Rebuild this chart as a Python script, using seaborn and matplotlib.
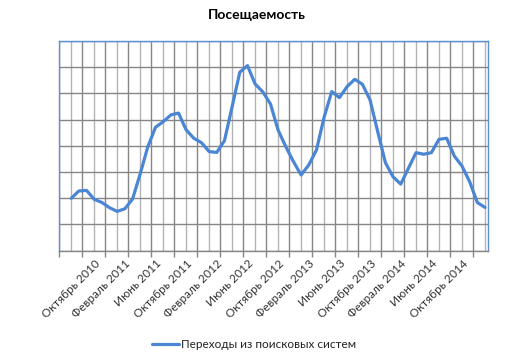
import numpy as np
import pandas as pd
import seaborn as sns
import matplotlib.pyplot as plt
from matplotlib.ticker import FixedLocator

# monthly data, July 2010 .. January 2015 (axis has no scale, values in grid units)
month_names = ['Январь', 'Февраль', 'Март', 'Апрель', 'Май', 'Июнь', 'Июль',
               'Август', 'Сентябрь', 'Октябрь', 'Ноябрь', 'Декабрь']
months = [f'{month_names[(6 + i) % 12]} {2010 + (6 + i) // 12}' for i in range(55)]
visits = [2.00, 2.28, 2.30, 1.96, 1.84, 1.64, 1.50, 1.60, 1.97, 2.93,
          3.97, 4.71, 4.92, 5.18, 5.25, 4.61, 4.29, 4.12, 3.78, 3.75,
          4.20, 5.50, 6.81, 7.06, 6.36, 6.06, 5.60, 4.60, 3.97, 3.40,
          2.89, 3.27, 3.84, 5.09, 6.07, 5.84, 6.26, 6.54, 6.35, 5.75,
          4.54, 3.36, 2.82, 2.54, 3.14, 3.74, 3.68, 3.74, 4.25, 4.29,
          3.61, 3.23, 2.63, 1.84, 1.65]
series_name = 'Переходы из поисковых систем'

df = pd.DataFrame({'idx': np.arange(len(visits)), 'month': months, 'visits': visits})

sns.set_style('white')
plt.rcParams['font.family'] = ['Lato', 'DejaVu Sans']

fig = plt.figure(figsize=(5.08, 3.6), dpi=100)
ax = fig.add_axes([0.1167, 0.3036, 0.8445, 0.5825])

blue = '#4a86d4'
sns.lineplot(data=df, x='idx', y='visits', ax=ax, color=blue, linewidth=2.3,
             label=series_name, legend=False)

x0, x1 = -1.56, 54.43
ax.set_xlim(x0, x1)
ax.set_ylim(0, 8)

# gridlines: dark every 3 months (with tick marks), light in between
major = np.arange(x0, x1, 3.0)
minor = np.arange(x0 + 1.5, x1, 3.0)
ax.xaxis.set_major_locator(FixedLocator(major))
ax.xaxis.set_minor_locator(FixedLocator(minor))
ax.set_yticks(np.arange(0, 9, 1))
ax.tick_params(axis='x', which='major', length=4, width=1, color='#868686',
               labelbottom=False, direction='out', bottom=True)
ax.tick_params(axis='x', which='minor', length=0, labelbottom=False)
ax.tick_params(axis='y', length=0, labelleft=False)
ax.grid(axis='y', which='major', color='#868686', linewidth=1)
ax.grid(axis='x', which='major', color='#868686', linewidth=1)
ax.grid(axis='x', which='minor', color='#b3b3b3', linewidth=1)
ax.set_axisbelow(True)

for side in ['left', 'right', 'top']:
    ax.spines[side].set_color('#5b8fd6')
    ax.spines[side].set_linewidth(1)
ax.spines['bottom'].set_color('#868686')
ax.spines['bottom'].set_linewidth(1)
ax.set_xlabel('')
ax.set_ylabel('')

# month labels every 4 months, starting at October 2010
lab_idx = df['idx'][3::4]
sec = ax.secondary_xaxis('bottom')
sec.set_xticks(lab_idx, df['month'][3::4], rotation=45, ha='right',
               rotation_mode='anchor', fontsize=8.5, color='#333333')
sec.tick_params(length=0, pad=5)
sec.spines['bottom'].set_visible(False)

fig.suptitle('Посещаемость', x=0.505, y=0.975, fontsize=10, fontweight='bold',
             color='#000000')

handles, labels = ax.get_legend_handles_labels()
fig.legend(handles, labels, loc='center', bbox_to_anchor=(0.5, 0.042),
           frameon=False, fontsize=8.5, handlelength=2.3, handletextpad=0.2,
           labelcolor='#222222')

fig.savefig('out.png', dpi=100)
